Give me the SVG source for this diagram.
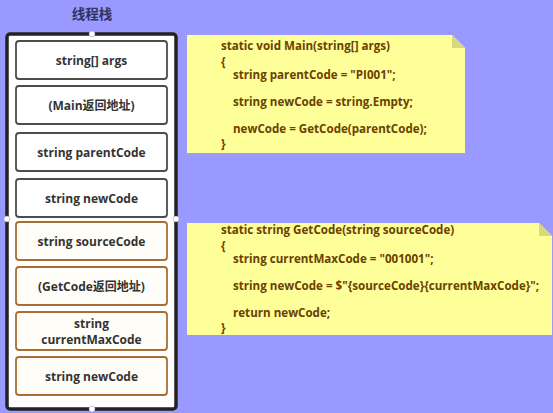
<svg xmlns="http://www.w3.org/2000/svg" width="553" height="413" viewBox="0 0 553 413">
<style>
.bg{fill:#9999FF}
.stack{fill:#FFFFFF;stroke:#222222;stroke-width:3.5}
.cell{fill:#FFFFFF;stroke:#4D4D4D;stroke-width:1.8}
.cell2{fill:#FFFDF8;stroke:#A86F34;stroke-width:1.8}
.lbl{font-family:"Segoe UI","Open Sans","Noto Sans","Noto Sans CJK SC",sans-serif;font-weight:bold;font-size:12px;fill:#333333;text-anchor:middle;dominant-baseline:central}
.title{font-family:"Noto Sans CJK SC",sans-serif;font-weight:bold;font-size:13.5px;fill:#33335E;text-anchor:middle;dominant-baseline:central}
.note{fill:#FFFF99}
.fold{fill:#D9D97A}
.code{font-family:"Open Sans","Noto Sans",sans-serif;font-weight:bold;font-size:11.6px;fill:#6B4100;dominant-baseline:central}
.pt{fill:#FFFFFF;stroke:#999999;stroke-width:0.5}
</style>
<rect class="bg" x="0" y="0" width="553" height="413"/>
<text class="title" x="92" y="13">线程栈</text>
<g id="stack">
<rect class="stack" x="7" y="34" width="169" height="375" rx="3"/>
<circle class="pt" cx="92" cy="34" r="3"/>
<circle class="pt" cx="7" cy="219" r="3"/>
<circle class="pt" cx="176" cy="219" r="3"/>
<circle class="pt" cx="92" cy="409" r="3"/>
</g>
<g id="n1"><rect class="cell" x="16" y="41" width="151" height="38" rx="3"/><text class="lbl" x="91.5" y="60">string[] args</text></g>
<g id="n2"><rect class="cell" x="16" y="86" width="151" height="38" rx="3"/><text class="lbl" x="91.5" y="105">(Main返回地址)</text></g>
<g id="n3"><rect class="cell" x="16" y="133" width="151" height="38" rx="3"/><text class="lbl" x="91.5" y="152">string parentCode</text></g>
<g id="n4"><rect class="cell" x="16" y="179" width="151" height="38" rx="3"/><text class="lbl" x="91.5" y="198">string newCode</text></g>
<g id="n5"><rect class="cell2" x="16" y="222" width="151" height="38" rx="3"/><text class="lbl" x="91.5" y="241">string sourceCode</text></g>
<g id="n6"><rect class="cell2" x="16" y="267" width="151" height="38" rx="3"/><text class="lbl" x="91.5" y="286">(GetCode返回地址)</text></g>
<g id="n7"><rect class="cell2" x="16" y="312" width="151" height="38" rx="3"/><text class="lbl" x="91.5" y="323.5">string</text><text class="lbl" x="91.5" y="339">currentMaxCode</text></g>
<g id="n8"><rect class="cell2" x="16" y="357" width="151" height="38" rx="3"/><text class="lbl" x="91.5" y="376">string newCode</text></g>
<g id="note1">
<path class="note" d="M187 35 H452 L465 48 V153 H187 Z"/>
<path class="fold" d="M452 35 L465 48 H452 Z"/>
<text class="code" x="221" y="45.5">static void Main(string[] args)</text>
<text class="code" x="221" y="61.5">{</text>
<text class="code" x="233" y="74">string parentCode = "PI001";</text>
<text class="code" x="233" y="101">string newCode = string.Empty;</text>
<text class="code" x="233" y="128">newCode = GetCode(parentCode);</text>
<text class="code" x="221" y="143">}</text>
</g>
<g id="note2">
<path class="note" d="M187 223 H539 L552 236 V335 H187 Z"/>
<path class="fold" d="M539 223 L552 236 H539 Z"/>
<text class="code" x="221" y="229.5">static string GetCode(string sourceCode)</text>
<text class="code" x="221" y="245.5">{</text>
<text class="code" x="233" y="258">string currentMaxCode = "001001";</text>
<text class="code" x="233" y="285">string newCode = $"{sourceCode}{currentMaxCode}";</text>
<text class="code" x="233" y="312">return newCode;</text>
<text class="code" x="221" y="327">}</text>
</g>
<g id="connectors"></g>
</svg>
